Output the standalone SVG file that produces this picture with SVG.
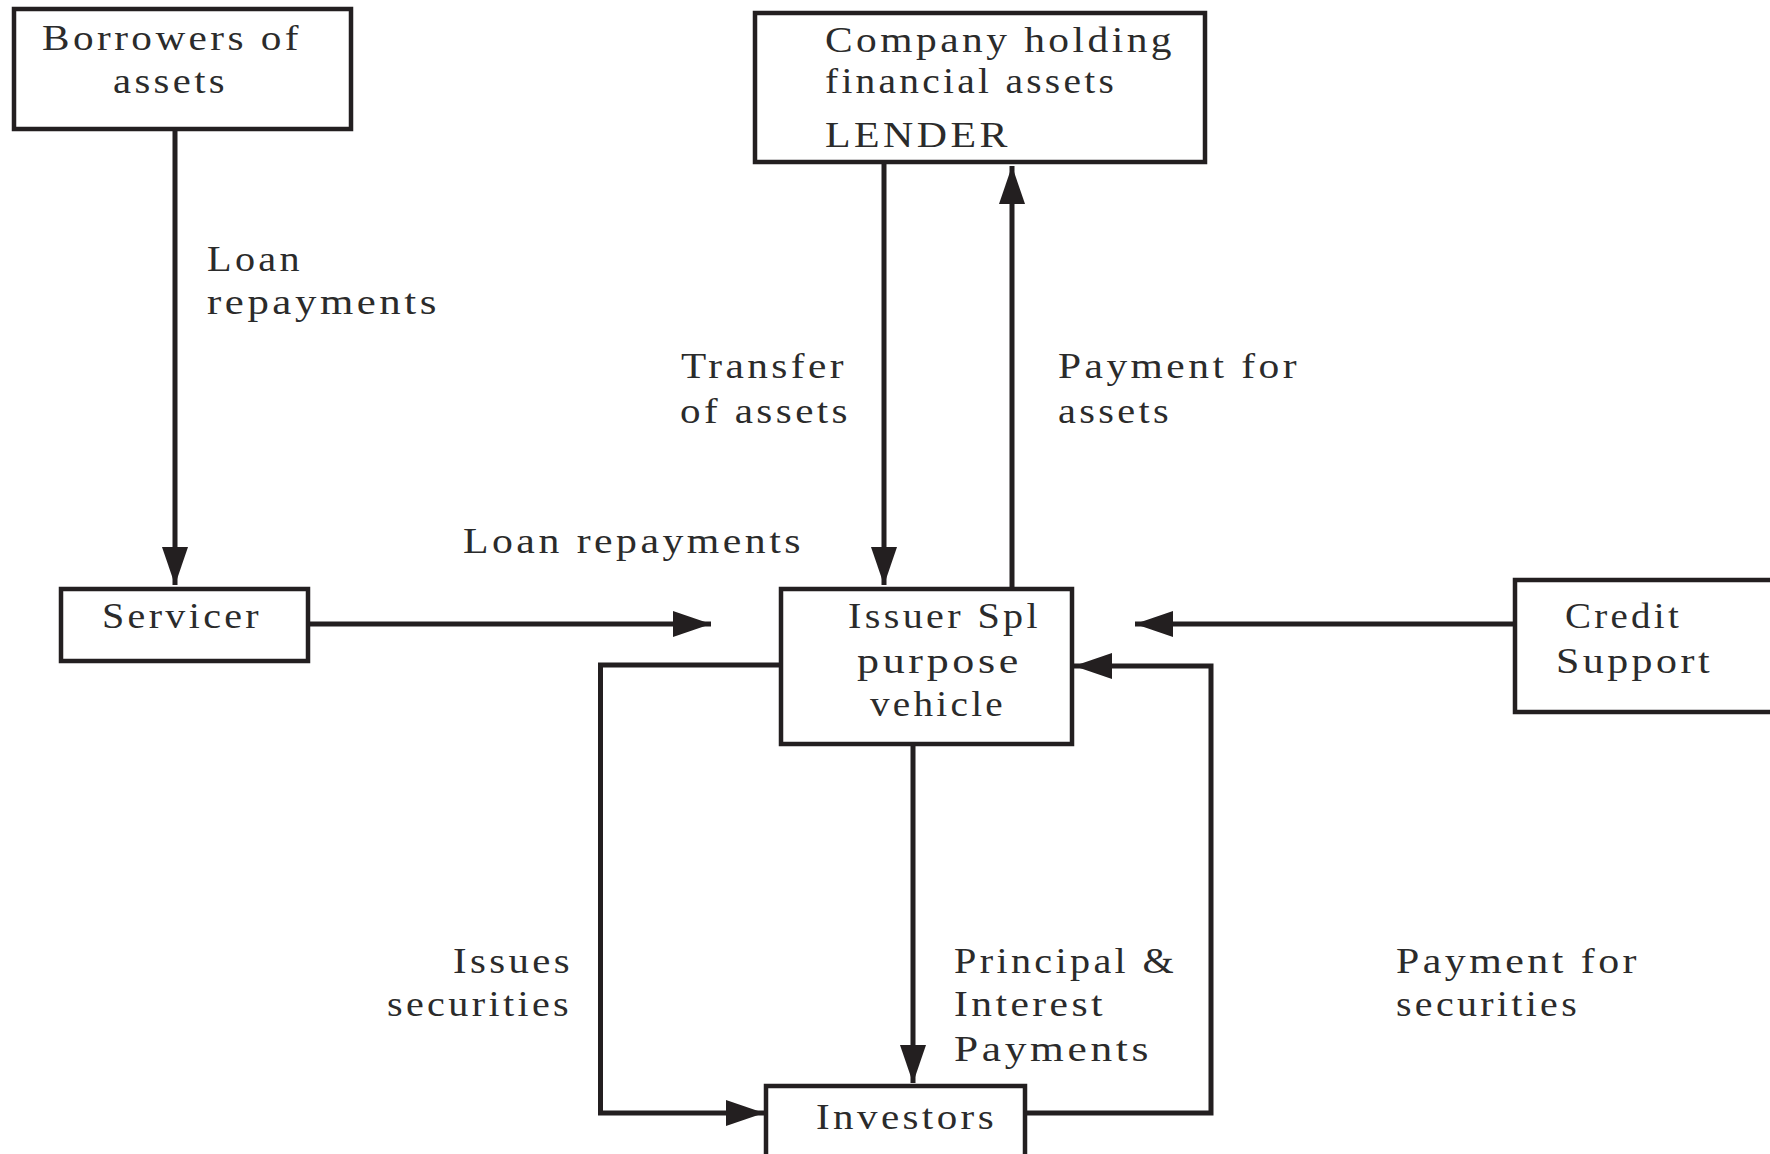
<svg xmlns="http://www.w3.org/2000/svg" width="1770" height="1154" viewBox="0 0 1770 1154">
  <style>
    .box { fill: #ffffff; stroke: #231f20; stroke-width: 4.5; }
    .flow { fill: none; stroke: #231f20; stroke-width: 5; }
    .lbl { font-family: "Liberation Serif", "Times New Roman", serif; font-size: 36px; letter-spacing: 3px; fill: #2b2b2b; }
  </style>
  <defs>
    <marker id="head" markerUnits="userSpaceOnUse" viewBox="0 0 38 26" refX="38" refY="13" markerWidth="38" markerHeight="26" orient="auto">
      <path d="M0,0 L38,13 L0,26 Z" fill="#231f20"/>
    </marker>
  </defs>
  <rect width="1770" height="1154" fill="#ffffff"/>

  <!-- connectors -->
  <g id="connectors">
    <path class="flow" d="M175,131 V585" marker-end="url(#head)"/>
    <path class="flow" d="M884,164 V585" marker-end="url(#head)"/>
    <path class="flow" d="M1012,587 V166" marker-end="url(#head)"/>
    <path class="flow" d="M310,624 H711" marker-end="url(#head)"/>
    <path class="flow" d="M1513,624 H1135" marker-end="url(#head)"/>
    <path class="flow" d="M779,665 H600.5 V1113 H764" marker-end="url(#head)"/>
    <path class="flow" d="M913,746 V1083" marker-end="url(#head)"/>
    <path class="flow" d="M1027,1113 H1211 V666 H1074" marker-end="url(#head)"/>
  </g>

  <!-- edge labels -->
  <g id="edge-labels" class="lbl">
    <text x="207" y="271" textLength="96" lengthAdjust="spacingAndGlyphs">Loan</text>
    <text x="207" y="314" textLength="233" lengthAdjust="spacingAndGlyphs">repayments</text>
    <text x="681" y="378" textLength="166" lengthAdjust="spacingAndGlyphs">Transfer</text>
    <text x="680" y="423" textLength="171" lengthAdjust="spacingAndGlyphs">of assets</text>
    <text x="1058" y="378" textLength="242" lengthAdjust="spacingAndGlyphs">Payment for</text>
    <text x="1058" y="423" textLength="114" lengthAdjust="spacingAndGlyphs">assets</text>
    <text x="463" y="553" textLength="341" lengthAdjust="spacingAndGlyphs">Loan repayments</text>
    <text x="453" y="973" textLength="120" lengthAdjust="spacingAndGlyphs">Issues</text>
    <text x="387" y="1016" textLength="185" lengthAdjust="spacingAndGlyphs">securities</text>
    <text x="954" y="973" textLength="223" lengthAdjust="spacingAndGlyphs">Principal &amp;</text>
    <text x="954" y="1016" textLength="152" lengthAdjust="spacingAndGlyphs">Interest</text>
    <text x="954" y="1061" textLength="198" lengthAdjust="spacingAndGlyphs">Payments</text>
    <text x="1396" y="973" textLength="244" lengthAdjust="spacingAndGlyphs">Payment for</text>
    <text x="1396" y="1016" textLength="184" lengthAdjust="spacingAndGlyphs">securities</text>
  </g>

  <g id="borrowers">
    <rect class="box" x="14" y="9" width="337" height="120"/>
    <text class="lbl" x="42" y="50" textLength="260" lengthAdjust="spacingAndGlyphs">Borrowers of</text>
    <text class="lbl" x="113" y="93" textLength="115" lengthAdjust="spacingAndGlyphs">assets</text>
  </g>

  <g id="lender">
    <rect class="box" x="755" y="13" width="450" height="149"/>
    <text class="lbl" x="825" y="52" textLength="350" lengthAdjust="spacingAndGlyphs">Company holding</text>
    <text class="lbl" x="825" y="93" textLength="292" lengthAdjust="spacingAndGlyphs">financial assets</text>
    <text class="lbl" x="825" y="147" textLength="186" lengthAdjust="spacingAndGlyphs">LENDER</text>
  </g>

  <g id="servicer">
    <rect class="box" x="61" y="589" width="247" height="72"/>
    <text class="lbl" x="102" y="628" textLength="160" lengthAdjust="spacingAndGlyphs">Servicer</text>
  </g>

  <g id="issuer-spv">
    <rect class="box" x="781" y="589" width="291" height="155"/>
    <text class="lbl" x="848" y="628" textLength="193" lengthAdjust="spacingAndGlyphs">Issuer Spl</text>
    <text class="lbl" x="857" y="673" textLength="165" lengthAdjust="spacingAndGlyphs">purpose</text>
    <text class="lbl" x="870" y="716" textLength="136" lengthAdjust="spacingAndGlyphs">vehicle</text>
  </g>

  <g id="credit-support">
    <rect class="box" x="1515" y="580" width="300" height="132"/>
    <text class="lbl" x="1565" y="628" textLength="117" lengthAdjust="spacingAndGlyphs">Credit</text>
    <text class="lbl" x="1556" y="673" textLength="157" lengthAdjust="spacingAndGlyphs">Support</text>
  </g>

  <g id="investors">
    <rect class="box" x="766" y="1086" width="259" height="120"/>
    <text class="lbl" x="816" y="1129" textLength="181" lengthAdjust="spacingAndGlyphs">Investors</text>
  </g>
</svg>
